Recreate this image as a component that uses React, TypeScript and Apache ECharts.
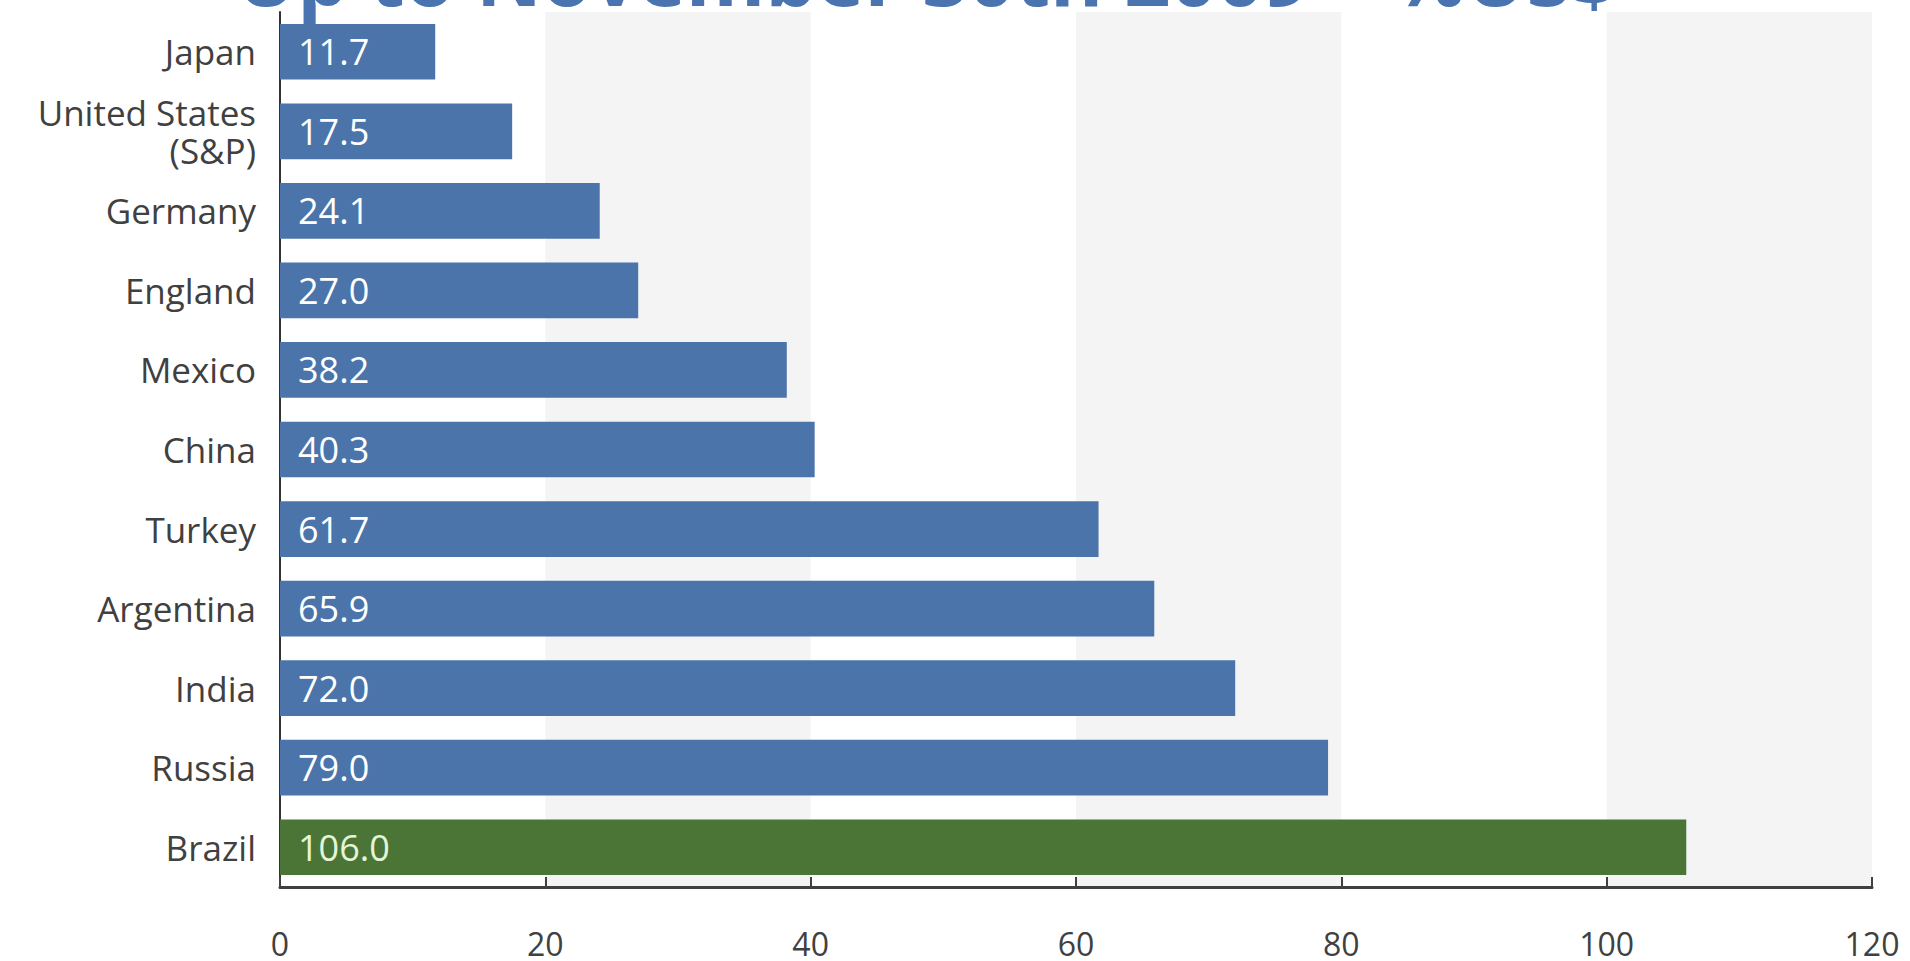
import React, { useEffect, useRef } from "react";
import * as echarts from "echarts";

// Stock market returns by country, in % (US$)
const countries = [
  "Japan",
  "United States\n(S&P)",
  "Germany",
  "England",
  "Mexico",
  "China",
  "Turkey",
  "Argentina",
  "India",
  "Russia",
  "Brazil",
];
const returns = [11.7, 17.5, 24.1, 27.0, 38.2, 40.3, 61.7, 65.9, 72.0, 79.0, 106.0];
const highlighted = "Brazil";
const titleText = "Up to November 30th 2009 – %US$";

const BLUE = "#4a74aa";
const GREEN = "#4a7537";

export default function App() {
  const ref = useRef<HTMLDivElement>(null);

  useEffect(() => {
    if (!ref.current) return;
    const chart = echarts.init(ref.current, null, { renderer: "svg" });

    const data = returns.map((v, i) => {
      const isHi = countries[i] === highlighted;
      return {
        value: v,
        itemStyle: { color: isHi ? GREEN : BLUE },
        label: { color: isHi ? "#e6f5d6" : "#ffffff" },
      };
    });

    chart.setOption({
      animation: false,
      backgroundColor: "#ffffff",
      textStyle: { fontFamily: "'Open Sans', sans-serif" },
      grid: { left: 280, right: 38, top: 12, bottom: 74, containLabel: false },
      xAxis: {
        type: "value",
        min: 0,
        max: 120,
        interval: 20,
        axisLine: { show: true, lineStyle: { color: "#404040", width: 3 } },
        axisTick: { show: true, inside: true, length: 10, lineStyle: { color: "#404040", width: 2 } },
        axisLabel: { color: "#404040", fontSize: 32, margin: 40, fontFamily: "'Open Sans', sans-serif" },
        splitLine: { show: false },
        splitArea: { show: true, areaStyle: { color: ["rgba(255,255,255,0)", "#f4f4f4"] } },
      },
      yAxis: {
        type: "category",
        inverse: true,
        data: countries,
        axisLine: { show: true, lineStyle: { color: "#333333", width: 2 } },
        axisTick: { show: false },
        axisLabel: {
          color: "#404040",
          fontSize: 35,
          lineHeight: 38,
          margin: 24,
          align: "right",
          fontFamily: "'Open Sans', sans-serif",
        },
      },
      series: [
        {
          type: "bar",
          data,
          barCategoryGap: "30%",
          label: {
            show: true,
            position: "insideLeft",
            distance: 18,
            fontSize: 36,
            fontFamily: "'Open Sans', sans-serif",
            formatter: (p: any) => Number(p.value).toFixed(1),
          },
        },
      ],
      graphic: [
        {
          type: "text",
          left: 236,
          top: -66,
          style: {
            text: titleText,
            fill: "#4a74b0",
            font: "bold 81px 'Open Sans', sans-serif",
          },
        },
      ],
    });

    return () => chart.dispose();
  }, []);

  return (
    <div
      ref={ref}
      style={{ position: "fixed", left: 0, top: 0, width: 1910, height: 961 }}
    />
  );
}
